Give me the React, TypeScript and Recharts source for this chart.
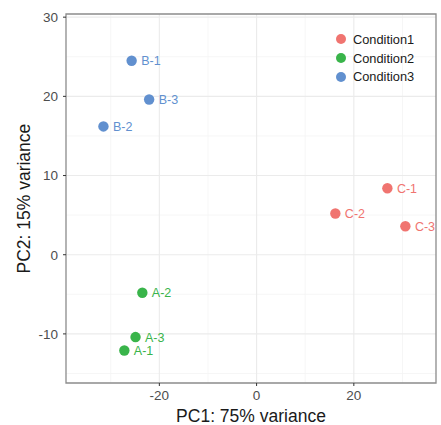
import {
  ScatterChart,
  Scatter,
  XAxis,
  YAxis,
  CartesianGrid,
  ReferenceArea,
  LabelList,
  Legend,
} from 'recharts';

// PCA scores, one array per condition
const condition1 = [
  { name: 'C-1', pc1: 26.9, pc2: 8.4 },
  { name: 'C-2', pc1: 16.2, pc2: 5.2 },
  { name: 'C-3', pc1: 30.6, pc2: 3.6 },
];
const condition2 = [
  { name: 'A-1', pc1: -27.2, pc2: -12.1 },
  { name: 'A-2', pc1: -23.5, pc2: -4.8 },
  { name: 'A-3', pc1: -24.9, pc2: -10.4 },
];
const condition3 = [
  { name: 'B-1', pc1: -25.7, pc2: 24.5 },
  { name: 'B-2', pc1: -31.5, pc2: 16.2 },
  { name: 'B-3', pc1: -22.1, pc2: 19.6 },
];

const xTicks = [-20, 0, 20];
const yTicks = [-10, 0, 10, 20, 30];
const xMinor = [-30, -10, 10, 30];
const yMinor = [-15, -5, 5, 15, 25];
const xDomain = [-39.2, 36.9];
const yDomain = [-16.2, 30.4];

const colors = ['#F07470', '#39B44A', '#6190CF'];
const seriesNames = ['Condition1', 'Condition2', 'Condition3'];

const font = '"Liberation Sans", Arial, sans-serif';

// legend drawn inside the panel, top right
const renderLegend = () => (
  <div style={{ fontFamily: font, fontSize: 12.8, color: '#1a1a1a', whiteSpace: 'nowrap' }}>
    {seriesNames.map((n, i) => (
      <div key={n} style={{ display: 'flex', alignItems: 'center', height: 18.8 }}>
        <svg width={12} height={12} style={{ marginRight: 6, flexShrink: 0 }}>
          <circle cx={6} cy={6} r={5} fill={colors[i]} />
        </svg>
        <span>{n}</span>
      </div>
    ))}
  </div>
);

const seriesData = [condition1, condition2, condition3];

const App = () => {
  return (
    <div style={{ position: 'absolute', left: 0, top: 0 }}>
      <ScatterChart
        width={441}
        height={425}
        margin={{ top: 14, right: 5, bottom: 0, left: 0 }}
        style={{ fontFamily: font }}
      >
        {/* minor grid */}
        <CartesianGrid
          stroke="#f4f4f4"
          strokeWidth={0.8}
          verticalValues={xMinor}
          horizontalValues={yMinor}
        />
        {/* major grid */}
        <CartesianGrid
          stroke="#ebebeb"
          strokeWidth={1.1}
          verticalValues={xTicks}
          horizontalValues={yTicks}
        />
        <XAxis
          type="number"
          dataKey="pc1"
          domain={xDomain}
          ticks={xTicks}
          allowDataOverflow
          height={42}
          tickSize={3}
          tickMargin={4}
          axisLine={false}
          tickLine={{ stroke: '#333333' }}
          tick={{ fill: '#4d4d4d', fontSize: 13.5 }}
          label={{ value: 'PC1: 75% variance', position: 'insideBottom', offset: 3, fill: '#1a1a1a', fontSize: 17.5 }}
        />
        <YAxis
          type="number"
          dataKey="pc2"
          domain={yDomain}
          ticks={yTicks}
          allowDataOverflow
          width={66}
          tickSize={3}
          tickMargin={5}
          axisLine={false}
          tickLine={{ stroke: '#333333' }}
          tick={{ fill: '#4d4d4d', fontSize: 13.5 }}
          label={{ value: 'PC2: 15% variance', angle: -90, position: 'insideLeft', offset: 24, dy: 75, fill: '#1a1a1a', fontSize: 17.5 }}
        />
        <ReferenceArea
          x1={xDomain[0]}
          x2={xDomain[1]}
          y1={yDomain[0]}
          y2={yDomain[1]}
          fill="none"
          stroke="#8c8c8c"
          strokeWidth={1.3}
        />
        <Legend
          layout="vertical"
          verticalAlign="top"
          align="right"
          content={renderLegend}
          wrapperStyle={{ top: 30, left: 335, width: 0, height: 0, overflow: 'visible' }}
        />
        {seriesData.map((d, i) => (
          <Scatter
            key={seriesNames[i]}
            name={seriesNames[i]}
            data={d}
            fill={colors[i]}
            shape={(p: any) => <circle cx={p.cx} cy={p.cy} r={5.2} fill={colors[i]} />}
            isAnimationActive={false}
          >
            <LabelList
              dataKey="name"
              position="right"
              offset={5}
              fill={colors[i]}
              fontSize={12.5}
            />
          </Scatter>
        ))}
      </ScatterChart>
    </div>
  );
};

export default App;
